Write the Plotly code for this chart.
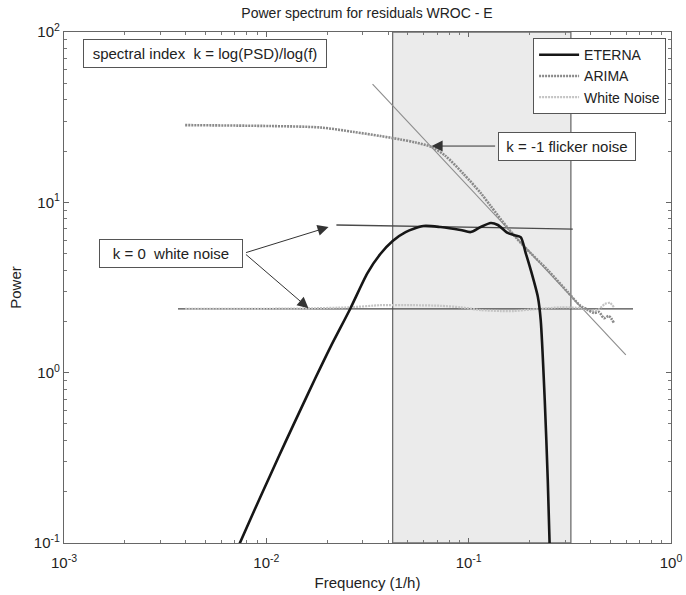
import math
import plotly.graph_objects as go

# ---------------- data ----------------
eterna_f = [0.00726, 0.00882, 0.01047, 0.01242, 0.01472, 0.01748, 0.02074, 0.02606, 0.0316, 0.0366,
            0.0421, 0.0488, 0.0598, 0.0726, 0.0912, 0.1023, 0.1146, 0.1285, 0.1394, 0.156,
            0.167, 0.1807, 0.1914, 0.2028, 0.2198, 0.227, 0.2377, 0.246, 0.2518]
eterna_p = [0.095, 0.160, 0.251, 0.391, 0.603, 0.930, 1.413, 2.39, 3.84, 4.97,
            5.93, 6.69, 7.26, 7.16, 6.88, 6.69, 7.16, 7.56, 7.36, 6.61,
            6.43, 6.25, 5.04, 4.0, 2.78, 2.04, 0.69, 0.234, 0.09]

arima_f = [0.00397, 0.01047, 0.0185, 0.027, 0.0367, 0.046, 0.0547, 0.0656, 0.0769, 0.0944,
           0.1147, 0.1285, 0.156, 0.187, 0.246, 0.309, 0.358, 0.384, 0.416, 0.441, 0.466, 0.493, 0.522]
arima_p = [28.4, 28.05, 27.5, 25.9, 24.5, 23.4, 22.45, 21.12, 18.70, 14.66,
           11.34, 9.51, 7.07, 5.54, 4.00, 2.97, 2.46, 2.36, 2.24, 2.27, 2.09, 2.15, 1.96]

wn_f = [0.00397, 0.00834, 0.01472, 0.02606, 0.0366, 0.0535, 0.0726, 0.0912, 0.1146, 0.1438,
        0.167, 0.2028, 0.246, 0.285, 0.358, 0.402, 0.441, 0.471, 0.499, 0.522]
wn_p = [2.37, 2.37, 2.38, 2.42, 2.49, 2.49, 2.47, 2.42, 2.33, 2.30,
        2.30, 2.35, 2.39, 2.42, 2.39, 2.30, 2.36, 2.53, 2.57, 2.42]

band_f = [0.0421, 0.32]          # shaded frequency band
power_lim = [0.1, 100]

white_lo_f = [0.00366, 0.649]
white_lo_p = [2.37, 2.37]
white_hi_f = [0.0222, 0.327]
white_hi_p = [7.36, 6.97]
flicker_f = [0.0335, 0.598]
flicker_p = [49.5, 1.27]

# arrow tips (frequency, power)
tip_flicker = (0.0656, 21.4)
tip_white_hi = (0.0203, 7.16)
tip_white_lo = (0.01615, 2.39)

x_tickvals = [0.001, 0.01, 0.1, 1]
x_ticktext = ["10<sup>-3</sup>", "10<sup>-2</sup>", "10<sup>-1</sup>", "10<sup>0</sup>"]
y_tickvals = [0.1, 1, 10, 100]
y_ticktext = ["10<sup>-1</sup>", "10<sup>0</sup>", "10<sup>1</sup>", "10<sup>2</sup>"]

FONT = "Liberation Sans, Arial, sans-serif"
TXT = "#222222"

fig = go.Figure()

# shaded band
fig.add_trace(go.Scatter(
    x=[band_f[0], band_f[1], band_f[1], band_f[0], band_f[0]],
    y=[power_lim[0], power_lim[0], power_lim[1], power_lim[1], power_lim[0]],
    mode="lines", fill="toself", fillcolor="#ebebeb",
    line=dict(color="#6e6e6e", width=1.3), showlegend=False, hoverinfo="skip"))

# reference lines
fig.add_trace(go.Scatter(x=white_lo_f, y=white_lo_p, mode="lines",
                         line=dict(color="#4a4a4a", width=1.3), showlegend=False, hoverinfo="skip"))
fig.add_trace(go.Scatter(x=white_hi_f, y=white_hi_p, mode="lines",
                         line=dict(color="#4a4a4a", width=1.3), showlegend=False, hoverinfo="skip"))
fig.add_trace(go.Scatter(x=flicker_f, y=flicker_p, mode="lines",
                         line=dict(color="#8c8c8c", width=1.1), showlegend=False, hoverinfo="skip"))

# spectra
fig.add_trace(go.Scatter(x=wn_f, y=wn_p, mode="lines", name="White Noise", legendrank=3,
                         line=dict(color="#c4c4c4", width=2.2, dash="2px,1px", shape="spline", smoothing=0.6)))
fig.add_trace(go.Scatter(x=arima_f, y=arima_p, mode="lines", name="ARIMA", legendrank=2,
                         line=dict(color="#8a8a8a", width=2.6, dash="2px,1px", shape="spline", smoothing=0.8)))
fig.add_trace(go.Scatter(x=eterna_f, y=eterna_p, mode="lines", name="ETERNA", legendrank=1,
                         line=dict(color="#161616", width=2.6, shape="spline", smoothing=0.7)))

axis_common = dict(
    type="log", showgrid=False, zeroline=False, showline=True, linecolor="#666666", linewidth=1.2,
    mirror="allticks", ticks="inside", ticklen=5, tickcolor="#666666", tickwidth=1,
    tickmode="array", tickfont=dict(family=FONT, size=15, color=TXT), automargin=False,
    minor=dict(ticks="inside", ticklen=3, tickcolor="#777777", dtick="D1", showgrid=False),
)

box = dict(showarrow=False, font=dict(family=FONT, size=15, color=TXT),
           bordercolor="#555555", borderwidth=1, borderpad=1, bgcolor="white",
           xref="paper", yref="paper", xanchor="center", yanchor="middle")
annots = [
    dict(box, x=0.2323, y=0.957, text="spectral index\u00a0\u00a0k = log(PSD)/log(f)", width=240, height=25),
    dict(box, x=0.8287, y=0.7769, text="k = -1 flicker noise", width=134, height=25),
    dict(box, x=0.177, y=0.5665, text="k = 0\u00a0\u00a0white noise", width=140, height=25),
]
# arrows
for tip, ax, ay in [(tip_flicker, 65, 0), (tip_white_hi, -84, 26), (tip_white_lo, -64, -55)]:
    annots.append(dict(x=math.log10(tip[0]), y=math.log10(tip[1]), xref="x", yref="y",
                       text="", showarrow=True, ax=ax, ay=ay, axref="pixel", ayref="pixel",
                       arrowhead=2, arrowsize=2.2, arrowwidth=1, arrowcolor="#333333"))

fig.update_layout(
    width=686, height=595,
    margin=dict(l=64, r=15, t=32, b=52, autoexpand=False),
    paper_bgcolor="white", plot_bgcolor="white",
    font=dict(family=FONT, size=14, color=TXT),
    title=dict(text="Power spectrum for residuals WROC - E", x=0.535, xanchor="center",
               y=0.978, yanchor="middle", font=dict(family=FONT, size=14, color=TXT)),
    xaxis=dict(axis_common, range=[-3, 0], tickvals=x_tickvals, ticktext=x_ticktext,
               ticklabelstandoff=6,
               title=dict(text="Frequency (1/h)", font=dict(family=FONT, size=15), standoff=7)),
    yaxis=dict(axis_common, range=[-1, 2], tickvals=y_tickvals, ticktext=y_ticktext,
               title=dict(text="Power", font=dict(family=FONT, size=15), standoff=8)),
    legend=dict(x=0.7728, y=0.988, xanchor="left", yanchor="top", bgcolor="white",
                bordercolor="#555555", borderwidth=1, font=dict(family=FONT, size=14, color=TXT),
                itemwidth=40, tracegroupgap=0),
    annotations=annots,
    showlegend=True,
)

fig.write_html("out.html")
